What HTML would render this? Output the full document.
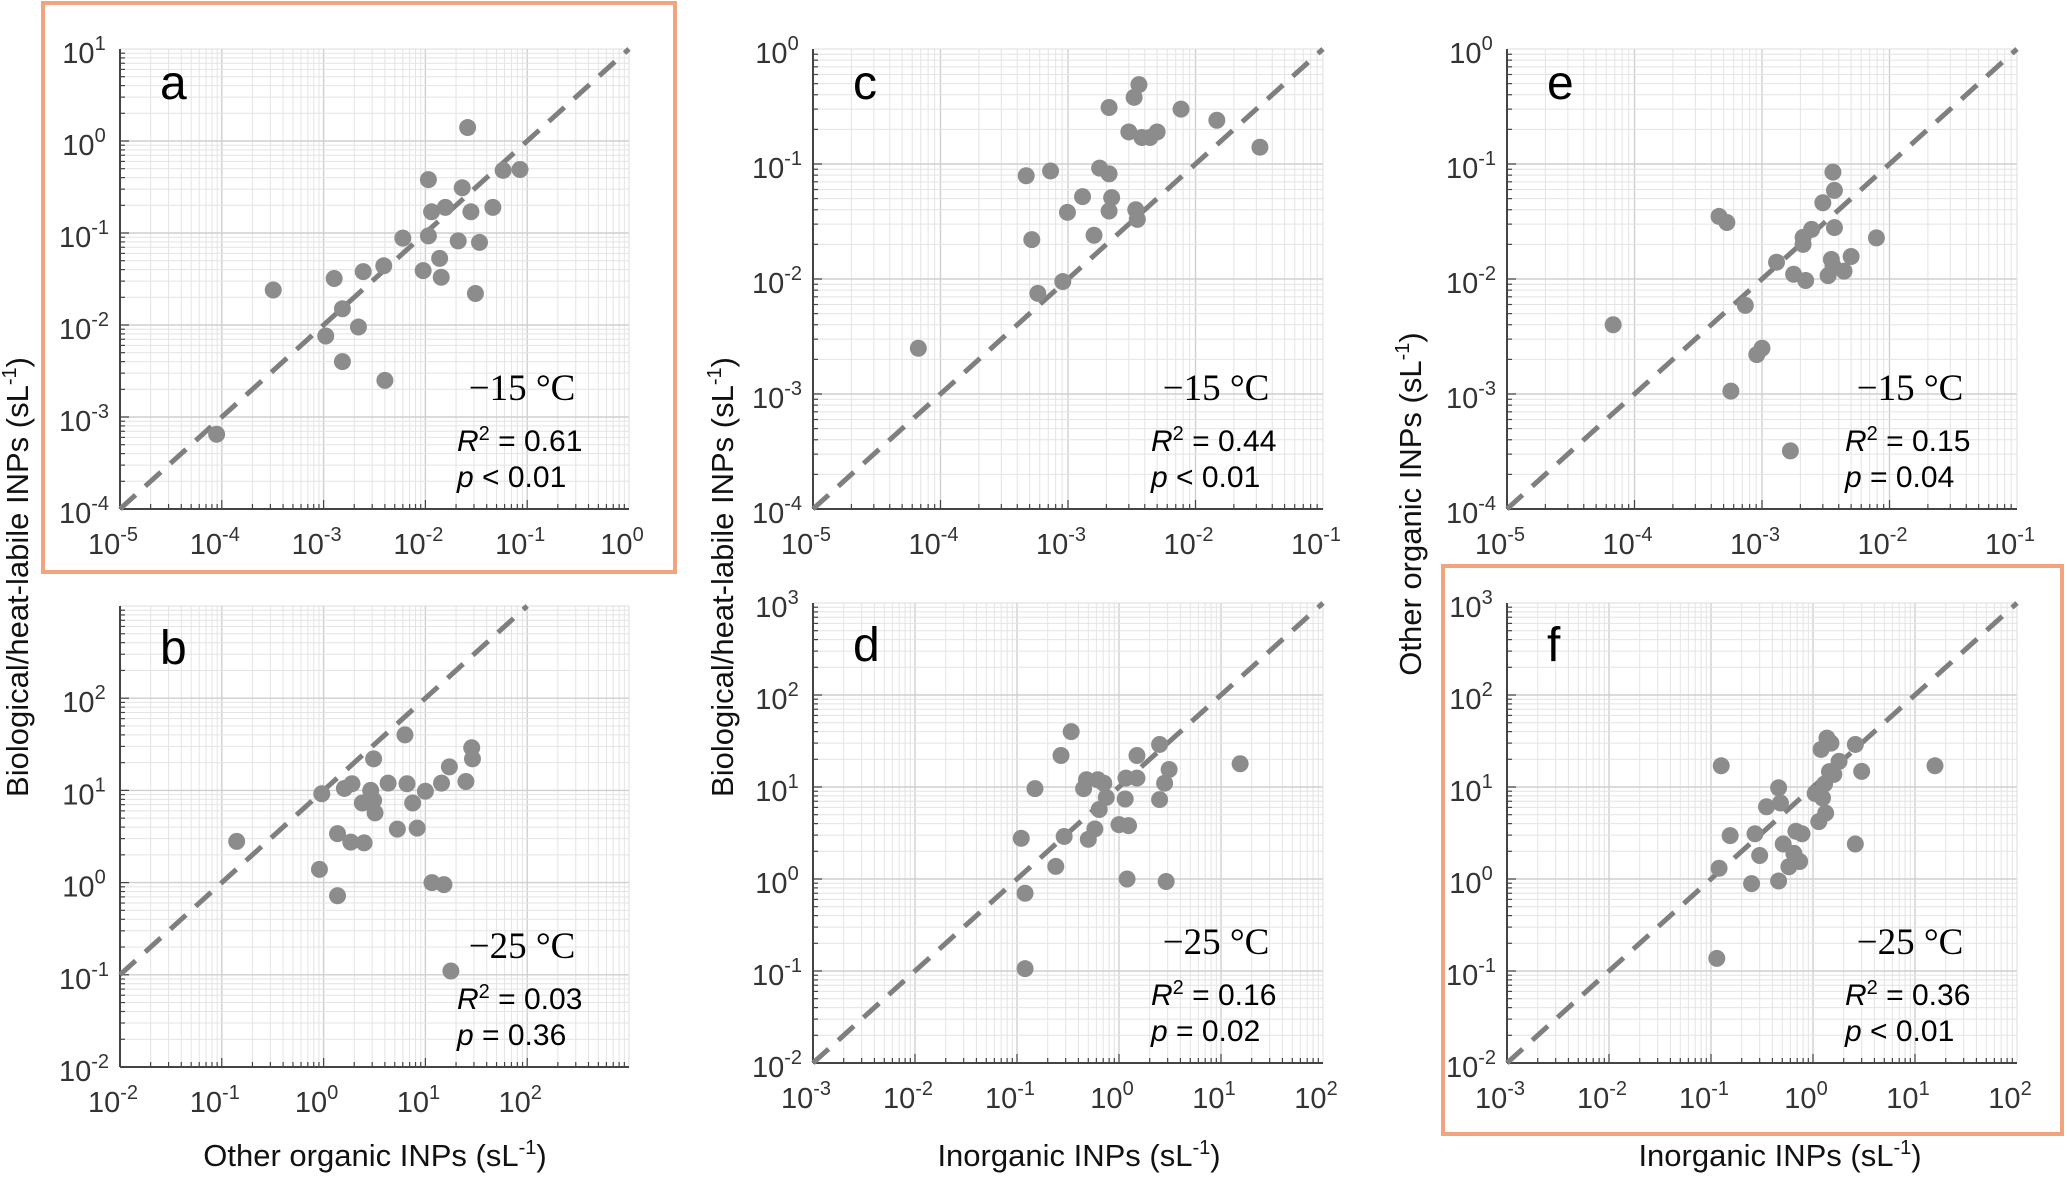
<!DOCTYPE html>
<html><head><meta charset="utf-8">
<style>
html,body{margin:0;padding:0;background:#fff;}
svg{display:block;font-family:"Liberation Sans",Arial,sans-serif;}
</style></head>
<body>
<svg id="fig" width="2067" height="1180" viewBox="0 0 2067 1180" xmlns="http://www.w3.org/2000/svg">
<rect x="0" y="0" width="2067" height="1180" fill="#fff"/>
<rect x="43" y="3" width="632" height="569" fill="none" stroke="#f2a47f" stroke-width="4"/>
<rect x="1443" y="566" width="619" height="568" fill="none" stroke="#f2a47f" stroke-width="4"/>
<text transform="translate(28,577) rotate(-90)" text-anchor="middle" font-size="31" fill="#111">Biological/heat-labile INPs (sL<tspan dy="-12" font-size="20">-1</tspan><tspan dy="12">)</tspan></text>
<text transform="translate(733,577) rotate(-90)" text-anchor="middle" font-size="31" fill="#111">Biological/heat-labile INPs (sL<tspan dy="-12" font-size="20">-1</tspan><tspan dy="12">)</tspan></text>
<text transform="translate(1421,504) rotate(-90)" text-anchor="middle" font-size="31" fill="#111">Other organic INPs (sL<tspan dy="-12" font-size="20">-1</tspan><tspan dy="12">)</tspan></text>
<text x="375" y="1166" text-anchor="middle" font-size="31" fill="#111">Other organic INPs (sL<tspan dy="-12" font-size="20">-1</tspan><tspan dy="12">)</tspan></text>
<text x="1079" y="1166" text-anchor="middle" font-size="31" fill="#111">Inorganic INPs (sL<tspan dy="-12" font-size="20">-1</tspan><tspan dy="12">)</tspan></text>
<text x="1780" y="1166" text-anchor="middle" font-size="31" fill="#111">Inorganic INPs (sL<tspan dy="-12" font-size="20">-1</tspan><tspan dy="12">)</tspan></text>
</svg>
<script>
// Panel a: other organic (x) vs biological (y), -15 C
const aX = [8.9e-5,3.2e-4,1.05e-3,1.27e-3,1.53e-3,1.53e-3,2.2e-3,2.45e-3,3.9e-3,4.0e-3,6.0e-3,9.5e-3,0.0107,0.0107,0.0115,0.0138,0.0143,0.0157,0.021,0.023,0.026,0.028,0.031,0.034,0.046,0.058,0.085];
const aY = [6.5e-4,0.024,7.6e-3,0.032,0.015,0.004,0.0095,0.038,0.044,0.0025,0.088,0.039,0.38,0.093,0.17,0.053,0.033,0.19,0.082,0.31,1.4,0.17,0.022,0.079,0.19,0.48,0.49];
// Panel b: -25 C
const bX = [0.14,0.91,0.96,1.37,1.37,1.6,1.85,1.9,2.4,2.5,2.9,3.1,3.1,3.2,4.3,5.3,6.3,6.6,7.5,8.3,10,11.6,14.4,15.2,17.2,17.8,25,28.5,29];
const bY = [2.8,1.39,9.2,0.72,3.4,10.5,2.75,11.8,7.3,2.7,10,22,7.8,5.7,12,3.8,40,11.8,7.3,3.9,9.8,1.0,12,0.95,18,0.11,12.5,29,22];
// Panel c: inorganic (x) vs biological (y), -15 C
const cX = [6.7e-5,4.7e-4,5.2e-4,5.8e-4,7.3e-4,9.1e-4,9.9e-4,1.3e-3,1.6e-3,1.77e-3,2.1e-3,2.1e-3,2.1e-3,2.2e-3,3.0e-3,3.3e-3,3.6e-3,3.4e-3,3.5e-3,3.8e-3,4.4e-3,5.0e-3,7.7e-3,1.47e-2,3.2e-2];
const cY = [2.5e-3,0.079,0.022,0.0075,0.087,0.0095,0.038,0.052,0.024,0.092,0.31,0.082,0.039,0.051,0.19,0.38,0.49,0.040,0.033,0.17,0.17,0.19,0.30,0.24,0.14];
// Panel d: -25 C
const dX = [0.11,0.12,0.12,0.15,0.24,0.27,0.29,0.34,0.45,0.48,0.5,0.58,0.62,0.64,0.71,0.75,1.0,1.17,1.15,1.24,1.2,1.5,1.5,2.5,2.5,2.8,2.9,3.1,15.4];
const dY = [2.77,0.70,0.106,9.6,1.37,22,2.9,40,9.6,12,2.7,3.5,12,5.7,11,7.7,3.9,12.5,7.4,3.8,1.0,22,12.5,29,7.3,11,0.94,15.5,17.9];
// Panel e: inorganic (x) vs other organic (y), -15 C
const eX = [6.8e-5,4.6e-4,5.3e-4,5.7e-4,7.4e-4,9.1e-4,1.0e-3,1.3e-3,1.77e-3,2.1e-3,2.1e-3,2.2e-3,2.45e-3,3.0e-3,3.3e-3,3.5e-3,3.6e-3,3.6e-3,3.7e-3,3.7e-3,4.4e-3,5.0e-3,7.9e-3,1.67e-3];
const eY = [4.0e-3,0.035,0.031,1.06e-3,5.9e-3,2.2e-3,2.5e-3,0.014,0.011,0.023,0.020,0.0097,0.027,0.046,0.0107,0.0148,0.013,0.085,0.059,0.028,0.0117,0.0157,0.0228,3.2e-4];
// Panel f: -25 C
const fX = [0.114,0.12,0.126,0.154,0.25,0.27,0.30,0.35,0.46,0.46,0.48,0.51,0.58,0.65,0.68,0.74,0.78,1.05,1.14,1.24,1.2,1.3,1.33,1.37,1.5,1.45,1.6,1.8,2.6,2.6,3.0,15.7];
const fY = [0.137,1.31,17,2.96,0.89,3.1,1.8,6.1,0.95,9.8,6.7,2.4,1.36,1.9,3.3,1.55,3.1,8.5,4.2,7.6,25.6,10.8,5.2,34,30,14.7,13.7,19,29,2.4,14.8,17];
// Axis decades (log10 exponents) per panel
const aXTicks = [-5,-4,-3,-2,-1,0];  const aYTicks = [-4,-3,-2,-1,0,1];
const bXTicks = [-2,-1,0,1,2];       const bYTicks = [-2,-1,0,1,2];
const cXTicks = [-5,-4,-3,-2,-1];    const cYTicks = [-4,-3,-2,-1,0];
const dXTicks = [-3,-2,-1,0,1,2];    const dYTicks = [-2,-1,0,1,2,3];
const eXTicks = [-5,-4,-3,-2,-1];    const eYTicks = [-4,-3,-2,-1,0];
const fXTicks = [-3,-2,-1,0,1,2];    const fYTicks = [-2,-1,0,1,2,3];
const annTemp = ["\u221215 \u00B0C","\u221225 \u00B0C","\u221215 \u00B0C","\u221225 \u00B0C","\u221215 \u00B0C","\u221225 \u00B0C"];
const annR2 = ["0.61","0.03","0.44","0.16","0.15","0.36"];
const annP = ["< 0.01","= 0.36","< 0.01","= 0.02","= 0.04","< 0.01"];

const NS = "http://www.w3.org/2000/svg";
const svg = document.getElementById("fig");
function mk(tag, attrs, parent){const e=document.createElementNS(NS,tag);for(const k in attrs)e.setAttribute(k,attrs[k]);(parent||svg).appendChild(e);return e;}

const panels = [
 {id:"a",X:aX,Y:aY,xt:aXTicks,yt:aYTicks,xmin:-5,xmax:0,ymin:-4,ymax:1,L:120,R:629,T:49,B:509},
 {id:"b",X:bX,Y:bY,xt:bXTicks,yt:bYTicks,xmin:-2,xmax:3,ymin:-2,ymax:3,L:120,R:629,T:606,B:1067},
 {id:"c",X:cX,Y:cY,xt:cXTicks,yt:cYTicks,xmin:-5,xmax:-1,ymin:-4,ymax:0,L:813,R:1323,T:49,B:509},
 {id:"d",X:dX,Y:dY,xt:dXTicks,yt:dYTicks,xmin:-3,xmax:2,ymin:-2,ymax:3,L:813,R:1323,T:603,B:1063},
 {id:"e",X:eX,Y:eY,xt:eXTicks,yt:eYTicks,xmin:-5,xmax:-1,ymin:-4,ymax:0,L:1507,R:2017,T:49,B:509},
 {id:"f",X:fX,Y:fY,xt:fXTicks,yt:fYTicks,xmin:-3,xmax:2,ymin:-2,ymax:3,L:1507,R:2017,T:603,B:1063}
];

panels.forEach((p,pi)=>{
  const sx = v => p.L + (Math.log10(v)-p.xmin)/(p.xmax-p.xmin)*(p.R-p.L);
  const sy = v => p.B - (Math.log10(v)-p.ymin)/(p.ymax-p.ymin)*(p.B-p.T);
  const g = mk("g",{});
  
  
  const grid = mk("g",{},g);
  
  
  for(let d=p.xmin; d<p.xmax; d++){
    for(let m=1;m<10;m++){
      const x=sx(m*Math.pow(10,d));
      mk("line",{x1:x,x2:x,y1:p.T,y2:p.B,stroke:m===1?"#cfcfcf":"#e4e4e4","stroke-width":m===1?1.4:1},grid);
      mk("line",{x1:x,x2:x,y1:p.B,y2:p.B-(m===1?9:5),stroke:"#444","stroke-width":1.2},grid);
    }
  }
  for(let d=p.ymin; d<p.ymax; d++){
    for(let m=1;m<10;m++){
      const y=sy(m*Math.pow(10,d));
      mk("line",{x1:p.L,x2:p.R,y1:y,y2:y,stroke:m===1?"#cfcfcf":"#e4e4e4","stroke-width":m===1?1.4:1},grid);
      mk("line",{x1:p.L,x2:p.L+(m===1?9:5),y1:y,y2:y,stroke:"#444","stroke-width":1.2},grid);
    }
  }
  mk("line",{x1:p.R,x2:p.R,y1:p.T,y2:p.B,stroke:"#dcdcdc","stroke-width":1},grid);
  mk("line",{x1:p.L,x2:p.R,y1:p.T,y2:p.T,stroke:"#dcdcdc","stroke-width":1},grid);
  const ax = mk("line",{x1:p.L,x2:p.R,y1:p.B,y2:p.B,stroke:"#444","stroke-width":2},g);
  
  
  const ay = mk("line",{x1:p.L,x2:p.L,y1:p.T,y2:p.B,stroke:"#444","stroke-width":2},g);
  
  
  p.xt.forEach(e=>{
    const t = mk("text",{x:sx(Math.pow(10,e))-7,y:p.B+45,"text-anchor":"middle","font-size":29,fill:"#333"},g);
    
    
    t.textContent="10";
    const s=mk("tspan",{dy:-13,"font-size":20},t); s.textContent=String(e);
  });
  p.yt.forEach(e=>{
    const t = mk("text",{x:p.L-36,y:sy(Math.pow(10,e))+14,"text-anchor":"middle","font-size":29,fill:"#333"},g);
    
    
    t.textContent="10";
    const s=mk("tspan",{dy:-13,"font-size":20},t); s.textContent=String(e);
  });
  const x0v=Math.pow(10,Math.max(p.xmin,p.ymin-1)), x1v=Math.pow(10,Math.min(p.xmax,p.ymax-1));
  const ln = mk("line",{x1:sx(x0v),y1:sy(x0v*10),x2:sx(x1v),y2:sy(x1v*10),stroke:"#7f7f7f","stroke-width":5,"stroke-dasharray":"21 13"},g);
  
  
  p.X.forEach((xv,i)=>{
    const c = mk("circle",{cx:sx(xv),cy:sy(p.Y[i]),r:8.5,fill:"#8c8c8c"},g);
    
    
  });
  const lt = mk("text",{x:p.L+40,y:p.T+(p.T<100?50:58),"font-size":48,fill:"#000"},g);
  
  
  lt.textContent=p.id;
  const tt = mk("text",{x:p.R-107,y:p.B-109,"text-anchor":"middle","font-size":37,"font-family":"Liberation Serif, serif",fill:"#000"},g);
  
  
  tt.textContent=annTemp[pi];
  const r2 = mk("text",{x:p.R-172,y:p.B-58,"font-size":30,fill:"#000"},g);
  
  
  const ri=mk("tspan",{"font-style":"italic"},r2); ri.textContent="R";
  const rs=mk("tspan",{dy:-11,"font-size":20},r2); rs.textContent="2";
  const rv=mk("tspan",{dy:11},r2); rv.textContent=" = "+annR2[pi];
  const pv = mk("text",{x:p.R-172,y:p.B-22,"font-size":30,fill:"#000"},g);
  
  
  const pi2=mk("tspan",{"font-style":"italic"},pv); pi2.textContent="p";
  const pt=mk("tspan",{},pv); pt.textContent=" "+annP[pi];
});
</script>
</body></html>
